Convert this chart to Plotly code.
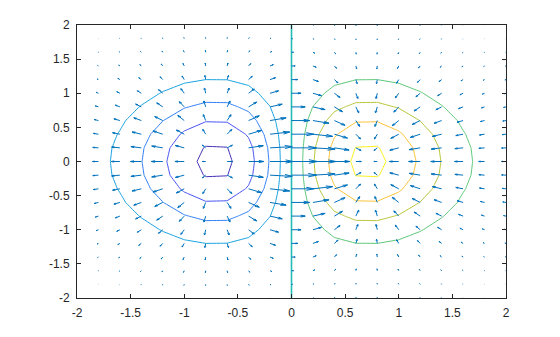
import numpy as np
import plotly.graph_objects as go
import plotly.figure_factory as ff

# grid (MATLAB: meshgrid(-2:0.2:2))
x_vals = [-2.0, -1.8, -1.6, -1.4, -1.2, -1.0, -0.8, -0.6, -0.4, -0.2, 0.0,
          0.2, 0.4, 0.6, 0.8, 1.0, 1.2, 1.4, 1.6, 1.8, 2.0]
y_vals = list(x_vals)
contour_levels = [-0.4, -0.3, -0.2, -0.1, 0.0, 0.1, 0.2, 0.3, 0.4]
tick_vals = [-2, -1.5, -1, -0.5, 0, 0.5, 1, 1.5, 2]
tick_text = ["-2", "-1.5", "-1", "-0.5", "0", "0.5", "1", "1.5", "2"]

X, Y = np.meshgrid(np.array(x_vals), np.array(y_vals))
Z = X * np.exp(-X**2 - Y**2)
DY, DX = np.gradient(Z, 0.2, 0.2)

# parula (8 anchors)
parula8 = ["#3e26a8", "#4852f4", "#2d87f7", "#11b1d6", "#37c897", "#abc739", "#fec338", "#f9fb15"]
zlim = float(np.abs(Z).max())


def parula(t):
    t = min(max(t, 0.0), 1.0) * 7
    i = min(int(t), 6)
    f = t - i
    a = [int(parula8[i][k:k + 2], 16) for k in (1, 3, 5)]
    b = [int(parula8[i + 1][k:k + 2], 16) for k in (1, 3, 5)]
    c = [round(a[j] + (b[j] - a[j]) * f) for j in range(3)]
    return "rgb(%d,%d,%d)" % tuple(c)


def contour_trace(lev, width):
    lv = lev if lev != 0 else 1e-12
    return go.Contour(
        x=x_vals, y=y_vals, z=Z,
        contours=dict(start=lv, end=lv, size=1, coloring="none"),
        line=dict(width=width, smoothing=0, color=parula((lev + zlim) / (2 * zlim))),
        showscale=False, hoverinfo="skip",
    )


fig = go.Figure()
for lev in contour_levels:
    if lev != 0:
        fig.add_trace(contour_trace(lev, 1))

# MATLAB-style autoscale for quiver
n = len(x_vals)
delx = (max(x_vals) - min(x_vals)) / n
dely = (max(y_vals) - min(y_vals)) / n
del2 = delx**2 + dely**2
maxlen = np.sqrt((DX**2 + DY**2) / del2).max()
scale = 0.9 / maxlen

q = ff.create_quiver(X.ravel(), Y.ravel(), DX.ravel(), DY.ravel(),
                     scale=scale, arrow_scale=0.3475, angle=np.arctan(0.33),
                     line=dict(color="#0072BD", width=1))
for tr in q.data:
    tr.hoverinfo = "skip"
    tr.showlegend = False
    fig.add_trace(tr)

# zero-level contour on top
fig.add_trace(contour_trace(0.0, 1.6))

axis_common = dict(
    range=[-2, 2], tickvals=tick_vals, ticktext=tick_text,
    ticks="inside", ticklen=4, tickwidth=1, tickcolor="#262626",
    showline=True, linecolor="#262626", linewidth=1, mirror="ticks",
    showgrid=False, zeroline=False,
    tickfont=dict(family="Liberation Sans, Arial", size=12, color="#262626"),
)
fig.update_layout(
    width=560, height=337,
    margin=dict(l=77, r=54, t=25, b=39),
    paper_bgcolor="white", plot_bgcolor="white",
    showlegend=False,
    xaxis=dict(**axis_common, ticklabelstandoff=4),
    yaxis=dict(**axis_common, ticklabelstandoff=4),
)
fig.write_html("out.html")
